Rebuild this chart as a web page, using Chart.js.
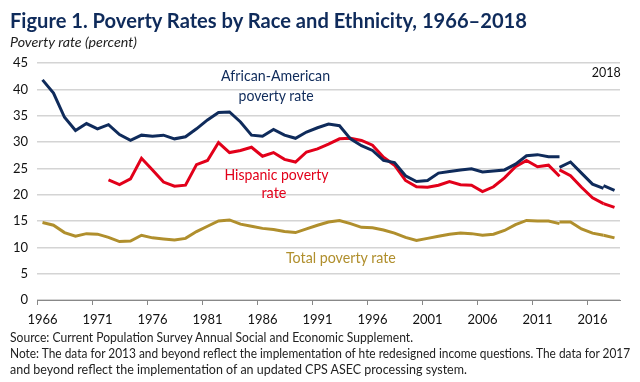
<!DOCTYPE html>
<html lang="en">
<head>
<meta charset="UTF-8">
<title>Poverty Rates by Race and Ethnicity</title>
<script src="https://cdn.jsdelivr.net/npm/chart.js"></script>
<style>
    body { margin: 0; background: #fff; font-family: "Liberation Sans Narrow", "Lato", sans-serif; }
    #wrap { position: relative; width: 640px; height: 382px; overflow: hidden; }
    canvas { position: absolute; left: 0; top: 0; }
    .txt { position: absolute; white-space: nowrap; transform-origin: 0 50%; line-height: 1; }
    .title { left: 10px; top: 9px; font-family: "Lato", sans-serif; font-weight: bold; font-size: 21px; color: #0f2b5b; }
    .sub { left: 10px; top: 35px; font-style: italic; font-size: 14px; color: #222; }
    .lbl { font-family: "Lato", sans-serif; font-size: 15px; text-align: center; transform-origin: 50% 50%; }
    .note { left: 10px; font-size: 13px; color: #222; }
</style>
</head>
<body>
<div id="wrap">
    <canvas id="povertyChart" width="640" height="382"></canvas>
    <div class="txt title" data-w="517">Figure 1. Poverty Rates by Race and Ethnicity, 1966–2018</div>
    <div class="txt sub" data-w="127">Poverty rate (percent)</div>

    <div class="txt lbl" style="left:218px; top:68px; color:#0f2b5b;" data-w="109">African-American</div>
    <div class="txt lbl" style="left:236px; top:88px; color:#0f2b5b;" data-w="75">poverty rate</div>
    <div class="txt lbl" style="left:221px; top:167px; color:#e2001a;" data-w="104">Hispanic poverty</div>
    <div class="txt lbl" style="left:261px; top:185px; color:#e2001a;" data-w="25">rate</div>
    <div class="txt lbl" style="left:283px; top:250px; color:#b08f2d;" data-w="110">Total poverty rate</div>
    <div class="txt lbl" style="left:590px; top:65px; color:#111; font-size:14px;" data-w="29">2018</div>

    <div class="txt note" style="top:331px;" data-w="403">Source: Current Population Survey Annual Social and Economic Supplement.</div>
    <div class="txt note" style="top:347px;" data-w="620">Note: The data for 2013 and beyond reflect the implementation of hte redesigned income questions. The data for 2017</div>
    <div class="txt note" style="top:363px;" data-w="457">and beyond reflect the implementation of an updated CPS ASEC processing system.</div>
</div>

<script>
    // years and rates, old income questions (1966-2013)
    const yearsOld = [];
    for (let y = 1966; y <= 2013; y++) yearsOld.push(y);
    const hispanicYearsOld = yearsOld.filter(y => y >= 1972);

    const blackOld = [
        41.8, 39.3, 34.7, 32.2, 33.5, 32.5, 33.3, 31.4, 30.3, 31.3,
        31.1, 31.3, 30.6, 31.0, 32.5, 34.2, 35.6, 35.7, 33.8, 31.3,
        31.1, 32.4, 31.3, 30.7, 31.9, 32.7, 33.4, 33.1, 30.6, 29.3,
        28.4, 26.5, 26.1, 23.6, 22.5, 22.7, 24.1, 24.4, 24.7, 24.9,
        24.3, 24.5, 24.7, 25.8, 27.4, 27.6, 27.2, 27.2
    ];
    const hispanicOld = [
        22.8, 21.9, 23.0, 26.9, 24.7, 22.4, 21.6, 21.8, 25.7, 26.5,
        29.9, 28.0, 28.4, 29.0, 27.3, 28.0, 26.7, 26.2, 28.1, 28.7,
        29.6, 30.6, 30.7, 30.3, 29.4, 27.1, 25.6, 22.7, 21.5, 21.4,
        21.8, 22.5, 21.9, 21.8, 20.6, 21.5, 23.2, 25.3, 26.5, 25.3,
        25.6, 23.5
    ];
    const totalOld = [
        14.7, 14.2, 12.8, 12.1, 12.6, 12.5, 11.9, 11.1, 11.2, 12.3,
        11.8, 11.6, 11.4, 11.7, 13.0, 14.0, 15.0, 15.2, 14.4, 14.0,
        13.6, 13.4, 13.0, 12.8, 13.5, 14.2, 14.8, 15.1, 14.5, 13.8,
        13.7, 13.3, 12.7, 11.9, 11.3, 11.7, 12.1, 12.5, 12.7, 12.6,
        12.3, 12.5, 13.2, 14.3, 15.1, 15.0, 15.0, 14.5
    ];

    // redesigned income questions (2013-2017)
    const yearsMid = [2013, 2014, 2015, 2016, 2017];
    const blackMid = [25.2, 26.2, 24.1, 22.0, 21.2];
    const hispanicMid = [24.7, 23.6, 21.4, 19.4, 18.3];
    const totalMid = [14.8, 14.8, 13.5, 12.7, 12.3];

    // updated processing system (2017-2018)
    const yearsNew = [2017, 2018];
    const blackNew = [21.7, 20.8];
    const hispanicNew = [18.3, 17.6];
    const totalNew = [12.3, 11.8];

    const xLabels = [1966, 1971, 1976, 1981, 1986, 1991, 1996, 2001, 2006, 2011, 2016];
    const yTicks = [0, 5, 10, 15, 20, 25, 30, 35, 40, 45];

    const NAVY = '#0f2b5b', RED = '#e2001a', GOLD = '#b08f2d';

    function pts(xs, ys) {
        return xs.map((x, i) => ({ x: x, y: ys[i] }));
    }

    function series(xs, ys, color) {
        return {
            data: pts(xs, ys),
            borderColor: color,
            borderWidth: 3,
            pointRadius: 0,
            tension: 0,
            fill: false
        };
    }

    // tick marks sit between years, like the category axis in the original
    const axisTicks = {
        id: 'axisTicks',
        afterDraw(chart) {
            const { ctx, chartArea, scales } = chart;
            ctx.save();
            ctx.strokeStyle = '#888';
            ctx.lineWidth = 1;
            for (let y = 1965.5; y < 2018; y += 5) {
                const px = Math.round(scales.x.getPixelForValue(y)) + 0.5;
                ctx.beginPath();
                ctx.moveTo(px, chartArea.bottom);
                ctx.lineTo(px, chartArea.bottom + 5);
                ctx.stroke();
            }
            ctx.restore();
        }
    };

    new Chart(document.getElementById('povertyChart'), {
        type: 'line',
        data: {
            datasets: [
                series(yearsOld, blackOld, NAVY),
                series(yearsMid, blackMid, NAVY),
                series(yearsNew, blackNew, NAVY),
                series(hispanicYearsOld, hispanicOld, RED),
                series(yearsMid, hispanicMid, RED),
                series(yearsNew, hispanicNew, RED),
                series(yearsOld, totalOld, GOLD),
                series(yearsMid, totalMid, GOLD),
                series(yearsNew, totalNew, GOLD)
            ]
        },
        options: {
            responsive: false,
            animation: false,
            layout: { padding: { top: 63, bottom: 52, left: 0, right: 20 } },
            plugins: { legend: { display: false }, tooltip: { enabled: false } },
            scales: {
                x: {
                    type: 'linear',
                    min: 1965.5,
                    max: 2018.5,
                    afterBuildTicks: s => { s.ticks = xLabels.map(v => ({ value: v })); },
                    afterFit: s => { s.height = 30; },
                    grid: { display: false, drawTicks: false },
                    border: { display: true, color: '#888', width: 1 },
                    ticks: {
                        padding: 12,
                        maxRotation: 0,
                        autoSkip: false,
                        color: '#111',
                        font: { family: 'Lato', size: 13 },
                        callback: v => String(v)
                    }
                },
                y: {
                    min: 0,
                    max: 45,
                    afterBuildTicks: s => { s.ticks = yTicks.map(v => ({ value: v })); },
                    afterFit: s => { s.width = 37; },
                    grid: { color: '#d4d4d4', lineWidth: 1.5, drawTicks: false },
                    border: { display: false },
                    ticks: {
                        padding: 9,
                        color: '#111',
                        font: { family: 'Lato', size: 13 }
                    }
                }
            }
        },
        plugins: [axisTicks]
    });

    // squeeze each text to the width it has in the original
    document.querySelectorAll('[data-w]').forEach(el => {
        const w = el.getBoundingClientRect().width;
        const target = parseFloat(el.dataset.w);
        el.style.transform = 'scaleX(' + (target / w).toFixed(3) + ')';
    });
</script>
</body>
</html>
